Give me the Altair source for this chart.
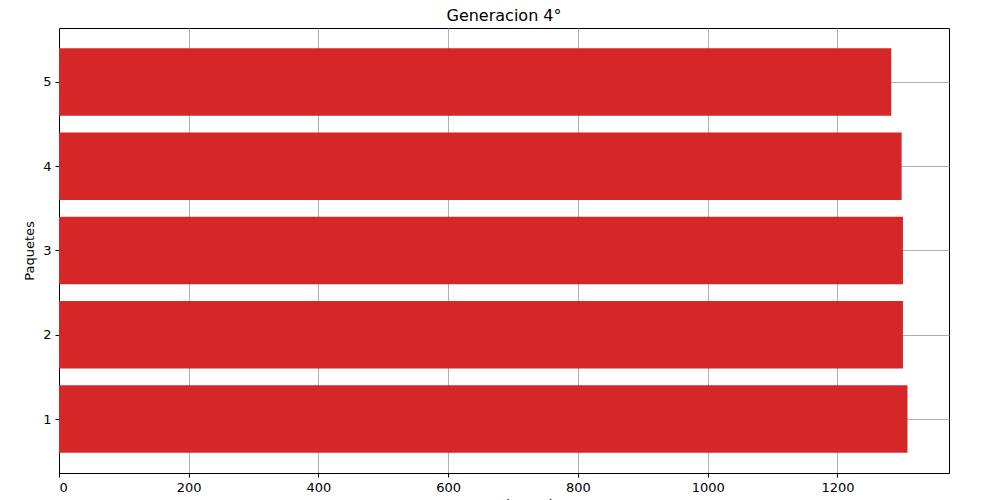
import altair as alt
import pandas as pd

paquetes = [1, 2, 3, 4, 5]
ganancia = [1308, 1301, 1301, 1299, 1283]

df = pd.DataFrame({"paquete": paquetes, "ganancia": ganancia})
df["lo"] = df["paquete"] - 0.4
df["hi"] = df["paquete"] + 0.4

chart = alt.Chart(df).mark_rect(color="#d62728").encode(
    x=alt.X("ganancia:Q", scale=alt.Scale(domain=[0, 1372], nice=False, zero=True),
            axis=alt.Axis(values=[0, 200, 400, 600, 800, 1000, 1200], title="Ganancia Total",
                          format="d", titlePadding=4)),
    x2=alt.value(0),
    y=alt.Y("lo:Q", scale=alt.Scale(domain=[0.36, 5.64], nice=False, zero=False),
            axis=alt.Axis(values=paquetes, title="Paquetes", format="d", titlePadding=6)),
    y2="hi:Q",
).properties(
    width=890, height=445,
    title=alt.TitleParams("Generacion 4°", fontSize=16, fontWeight="normal", font="DejaVu Sans", offset=4),
    padding={"left": 15, "top": 0, "right": 5, "bottom": 5},
).configure_axis(
    labelFont="DejaVu Sans", titleFont="DejaVu Sans", labelFontSize=13, titleFontSize=13,
    titleFontWeight="normal", labelColor="black", titleColor="black",
    domainColor="black", tickColor="black", gridColor="#b0b0b0", tickSize=4, labelPadding=4,
).configure_view(stroke="black", strokeWidth=1)

chart.save("out.html", embed_options={"renderer": "svg", "actions": False})
